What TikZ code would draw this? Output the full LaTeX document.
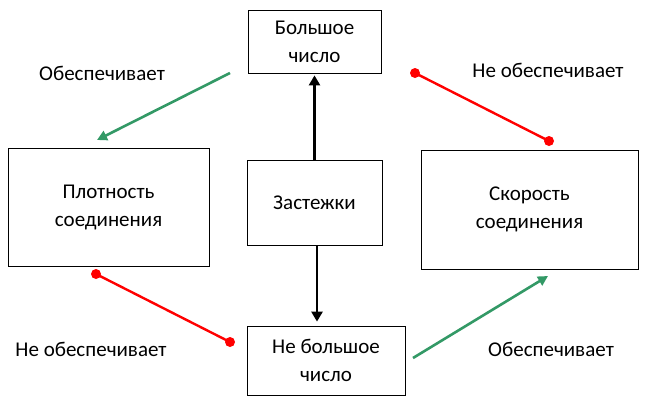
\documentclass[tikz,border=0pt]{standalone}
\usepackage{fontspec}
\setmainfont{Carlito}
\usetikzlibrary{arrows.meta}

\begin{document}
\begin{tikzpicture}[x=1pt,y=-1pt,
        box/.style={draw,line width=0.8pt,align=center,inner sep=0pt,
            font=\fontsize{21}{28}\selectfont},
        lbl/.style={font=\fontsize{21}{25}\selectfont,inner sep=0pt},
        conn/.style={line width=2.6pt,-{Triangle[length=10pt,width=11pt]}},
        yes/.style={draw=okgreen,line width=2.6pt,-{Triangle[length=10pt,width=10pt]}},
        no/.style={draw=red,line width=2.4pt}]
    \definecolor{okgreen}{RGB}{51,153,102}
    \useasboundingbox (0,0) rectangle (650,400);

    % Boxes
    \node[box,minimum width=133pt,minimum height=63pt] (big) at (314.5,41.5) {Большое\\число};
    \node[box,minimum width=201pt,minimum height=118pt] (dens) at (108.5,207) {Плотность\\соединения};
    \node[box,minimum width=135pt,minimum height=85pt] (clasp) at (314.5,202.5) {Застежки};
    \node[box,minimum width=217pt,minimum height=119pt] (speed) at (529.5,209.5) {Скорость\\соединения};
    \node[box,minimum width=158pt,minimum height=69pt] (small) at (326,360.5) {Не большое\\число};

    % Labels
    \node[lbl] (l1) at (102,73) {Обеспечивает};
    \node[lbl] (l2) at (548,70) {Не обеспечивает};
    \node[lbl] (l3) at (91,349) {Не обеспечивает};
    \node[lbl] (l4) at (551,349) {Обеспечивает};

    % Free ends
    \coordinate (g1a) at (230,73);
    \coordinate (g1b) at (97,140);
    \coordinate (r1a) at (415,73);
    \coordinate (r1b) at (549,141);
    \coordinate (r2a) at (96,274);
    \coordinate (r2b) at (230,342);
    \coordinate (g2a) at (413,358);
    \coordinate (g2b) at (548,276);

    % Clasp arrows
    \draw[conn,shorten >=2pt] (clasp.north) -- (big.south);
    \draw[conn,shorten >=4pt] ([xshift=2.5pt]clasp.south) -- ([xshift=2.5pt]clasp.south |- small.north);

    % Provides
    \draw[yes] (g1a) -- (g1b);
    \draw[yes] (g2a) -- (g2b);

    % Does not provide
    \draw[no] (r1a) -- (r1b);
    \draw[no] (r2a) -- (r2b);
    \fill[red] (r1a) circle (5pt) (r1b) circle (5pt) (r2a) circle (5pt) (r2b) circle (5pt);
\end{tikzpicture}
\end{document}
